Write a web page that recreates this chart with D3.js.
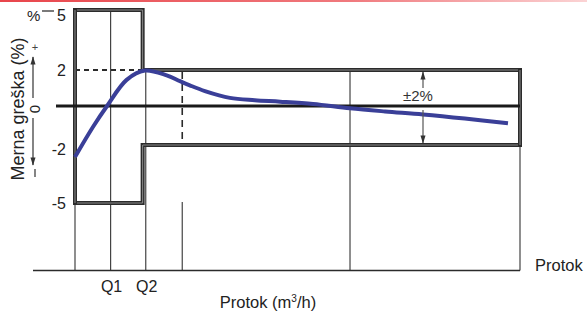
<!DOCTYPE html>
<html>
<head>
<meta charset="utf-8">
<script src="https://cdn.jsdelivr.net/npm/d3@7"></script>
<style>
  html, body { margin: 0; padding: 0; background: #fff; }
  svg { display: block; font-family: "Liberation Sans", Arial, sans-serif; }
</style>
</head>
<body>
<svg id="chart"></svg>
<script>
// error curve (flow in % of scale width, error in %)
const curveFlow = [0, 4.1, 7.2, 11.6, 15.7, 20.6, 23.6, 25.8, 29.2, 34.8, 40.4, 46.1, 53.5, 61.8, 69.7, 78.2, 87.6, 97.3];
const curveErr  = [-2.62, -1.05, 0, 1.45, 1.97, 1.7, 1.38, 1.15, 0.83, 0.45, 0.32, 0.24, 0.11, -0.12, -0.28, -0.43, -0.64, -0.89];

// tolerance limits
const limitFlow  = [0, 15.2, 100];
const upperLimit = [5, 2];
const lowerLimit = [-5, -2];

const yTicks = [5, 2, -2, -5];
const qLabels = ["Q1", "Q2"];
const qFlow = [8.0, 15.9];
const dashFlow = 24.1;
const sectionFlow = 61.8;

const W = 587, H = 320;
const baseY = 270.5;

const svg = d3.select("#chart").attr("width", W).attr("height", H);

const defs = svg.append("defs");
const grad = defs.append("linearGradient").attr("id", "topRed");
grad.append("stop").attr("offset", "0%").attr("stop-color", "#e8454b");
grad.append("stop").attr("offset", "60%").attr("stop-color", "#f07a7e");
grad.append("stop").attr("offset", "100%").attr("stop-color", "#fbd3d4");
svg.append("rect").attr("x", 0).attr("y", 0).attr("width", W).attr("height", 2).attr("fill", "url(#topRed)");

["arrUp", "arrDown"].forEach(id => {
  defs.append("marker")
    .attr("id", id)
    .attr("viewBox", "0 0 10 10")
    .attr("refX", 9).attr("refY", 5)
    .attr("markerWidth", 7).attr("markerHeight", 7)
    .attr("orient", "auto")
    .append("path").attr("d", "M0,2 L10,5 L0,8 Z").attr("fill", "#333");
});

const x = d3.scaleLinear().domain([0, 100]).range([75, 520]);
const y = d3.scaleLinear().domain([-5, -2, 0, 2, 5]).range([203, 145, 106, 70, 10]);

const ink = "#2b2b2b";

// thin vertical grid lines
const thin = svg.append("g").attr("stroke", "#444").attr("stroke-width", 1.2);
thin.append("line").attr("x1", x(0)).attr("x2", x(0)).attr("y1", y(5)).attr("y2", baseY);
thin.append("line").attr("x1", x(qFlow[0])).attr("x2", x(qFlow[0])).attr("y1", y(5)).attr("y2", baseY);
thin.append("line").attr("x1", x(qFlow[1])).attr("x2", x(qFlow[1])).attr("y1", y(2)).attr("y2", baseY);
thin.append("line").attr("x1", x(sectionFlow)).attr("x2", x(sectionFlow)).attr("y1", y(2)).attr("y2", baseY);
thin.append("line").attr("x1", x(100)).attr("x2", x(100)).attr("y1", y(2)).attr("y2", baseY);
thin.append("line").attr("x1", x(dashFlow)).attr("x2", x(dashFlow)).attr("y1", y(-5) - 1).attr("y2", baseY);

// bottom base line
svg.append("line").attr("x1", 33).attr("x2", x(100)).attr("y1", baseY).attr("y2", baseY)
  .attr("stroke", ink).attr("stroke-width", 1.5);

// dashed lines
svg.append("line").attr("x1", x(0)).attr("x2", x(limitFlow[1])).attr("y1", y(2)).attr("y2", y(2))
  .attr("stroke", ink).attr("stroke-width", 2).attr("stroke-dasharray", "5,4");
svg.append("line").attr("x1", x(dashFlow)).attr("x2", x(dashFlow)).attr("y1", y(2) + 2).attr("y2", y(-2))
  .attr("stroke", ink).attr("stroke-width", 1.6).attr("stroke-dasharray", "7,5");

// limit envelope (double line look)
const stepLine = d3.line().x(d => x(d[0])).y(d => y(d[1]));
const upperPts = [[limitFlow[0], upperLimit[0]], [limitFlow[1], upperLimit[0]], [limitFlow[1], upperLimit[1]], [limitFlow[2], upperLimit[1]]];
const lowerPts = [[limitFlow[0], lowerLimit[0]], [limitFlow[1], lowerLimit[0]], [limitFlow[1], lowerLimit[1]], [limitFlow[2], lowerLimit[1]]];
const leftEdge = [[0, upperLimit[0]], [0, lowerLimit[0]]];
const rightEdge = [[100, upperLimit[1]], [100, lowerLimit[1]]];
[upperPts, lowerPts, leftEdge, rightEdge].forEach(pts => {
  svg.append("path").attr("d", stepLine(pts)).attr("fill", "none")
    .attr("stroke", ink).attr("stroke-width", 4).attr("stroke-linecap", "square");
  svg.append("path").attr("d", stepLine(pts)).attr("fill", "none")
    .attr("stroke", "#8a8a8a").attr("stroke-width", 1);
});

// zero line
svg.append("line").attr("x1", 56).attr("x2", x(100)).attr("y1", y(0)).attr("y2", y(0))
  .attr("stroke", "#1a1a1a").attr("stroke-width", 3);

// error curve
const curveData = curveFlow.map((f, i) => ({ f, e: curveErr[i] }));
svg.append("path")
  .datum(curveData)
  .attr("fill", "none")
  .attr("stroke", "#3a3f98")
  .attr("stroke-width", 4)
  .attr("d", d3.line().x(d => x(d.f)).y(d => y(d.e)).curve(d3.curveCatmullRom.alpha(0.5)));

// y tick labels
const yAxis = svg.append("g")
  .attr("transform", `translate(${x(0)},0)`)
  .call(d3.axisLeft(y).tickValues(yTicks).tickSize(0).tickPadding(9).tickFormat(d => String(d)));
yAxis.select(".domain").remove();
yAxis.selectAll("text")
  .attr("font-size", 16)
  .attr("font-family", "Liberation Sans, Arial, sans-serif")
  .attr("fill", "#222")
  .attr("dy", d => d === 5 ? "0.65em" : d === -2 ? "0.62em" : "0.35em");

svg.append("text").attr("x", 27).attr("y", 21).attr("font-size", 15).attr("fill", "#222").text("%");
svg.append("line").attr("x1", 42).attr("x2", 54).attr("y1", 11).attr("y2", 11).attr("stroke", "#222").attr("stroke-width", 1.2);

// y title
svg.append("text")
  .attr("transform", "translate(18,109) rotate(-90)")
  .attr("text-anchor", "middle")
  .attr("dominant-baseline", "central")
  .attr("font-size", 18)
  .attr("fill", "#222")
  .text("Merna greška (%)");

// direction hint: - <- 0 -> +
svg.append("text").attr("x", 35).attr("y", 51).attr("text-anchor", "middle").attr("font-size", 11).attr("fill", "#444").text("+");
svg.append("line").attr("x1", 33).attr("x2", 33).attr("y1", 98).attr("y2", 57)
  .attr("stroke", "#333").attr("stroke-width", 1.2).attr("marker-end", "url(#arrUp)");
svg.append("text")
  .attr("transform", "translate(34,109) rotate(-90)")
  .attr("text-anchor", "middle").attr("dominant-baseline", "central")
  .attr("font-size", 15).attr("fill", "#222").text("0");
svg.append("line").attr("x1", 33).attr("x2", 33).attr("y1", 118).attr("y2", 165)
  .attr("stroke", "#333").attr("stroke-width", 1.2).attr("marker-end", "url(#arrDown)");
svg.append("line").attr("x1", 35).attr("x2", 35).attr("y1", 169).attr("y2", 177)
  .attr("stroke", "#333").attr("stroke-width", 1.2);

// ±2% annotation
const annX = 423;
svg.append("line").attr("x1", annX).attr("x2", annX).attr("y1", 88).attr("y2", y(2) + 2)
  .attr("stroke", "#555").attr("stroke-width", 1.2).attr("marker-end", "url(#arrUp)");
svg.append("line").attr("x1", annX).attr("x2", annX).attr("y1", 110).attr("y2", y(-2) - 2)
  .attr("stroke", "#555").attr("stroke-width", 1.2).attr("marker-end", "url(#arrDown)");
svg.append("text").attr("x", 418).attr("y", 101).attr("text-anchor", "middle")
  .attr("font-size", 15).attr("fill", "#333").text("±2%");

// Q labels
svg.selectAll(".qlab")
  .data(qLabels)
  .enter()
  .append("text")
  .attr("class", "qlab")
  .attr("x", (d, i) => x(qFlow[i]) + 1)
  .attr("y", 292)
  .attr("text-anchor", "middle")
  .attr("font-size", 16)
  .attr("fill", "#222")
  .text(d => d);

// x titles
const xt = svg.append("text").attr("x", 268).attr("y", 308).attr("text-anchor", "middle")
  .attr("font-size", 16.5).attr("fill", "#222");
xt.append("tspan").text("Protok (m");
xt.append("tspan").attr("font-size", 10).attr("dy", -6).text("3");
xt.append("tspan").attr("dy", 6).text("/h)");

svg.append("text").attr("x", 535).attr("y", 271).attr("font-size", 16.5).attr("fill", "#222").text("Protok");
</script>
</body>
</html>
